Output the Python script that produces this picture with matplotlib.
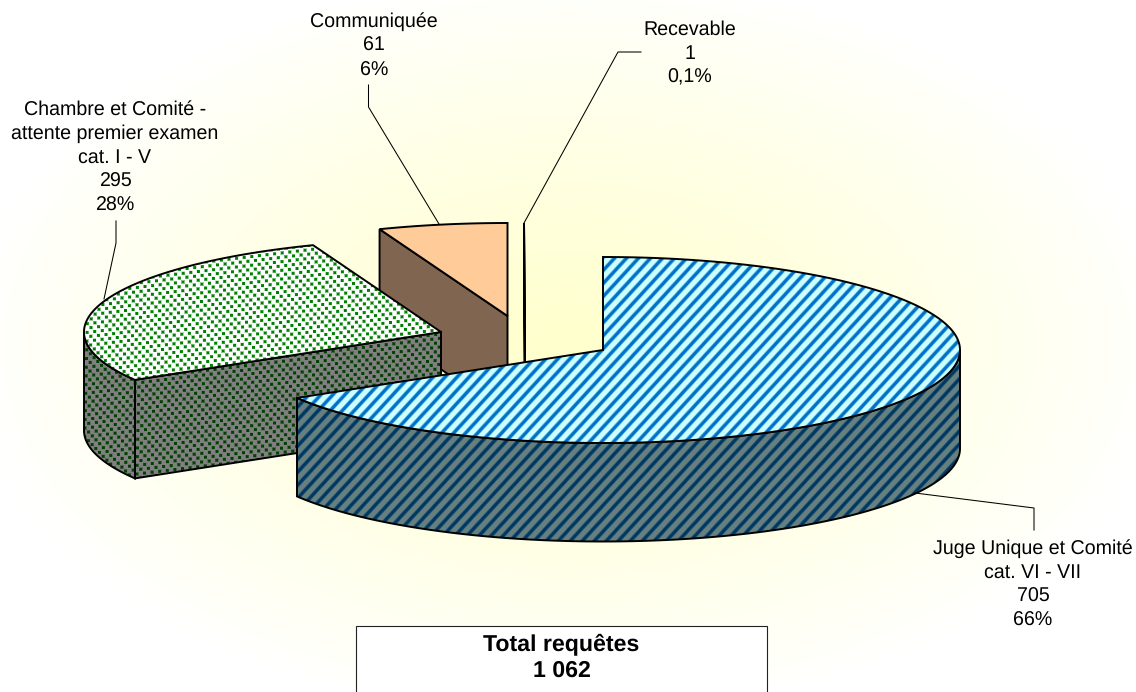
import numpy as np
import matplotlib
matplotlib.use('Agg')
import matplotlib.pyplot as plt
from matplotlib.patches import Polygon, Rectangle

plt.rcParams['font.family'] = ['Liberation Sans', 'DejaVu Sans']
plt.rcParams['text.hinting'] = 'no_hinting'

#%% Donnees -------------------------------------------------------------
labels  = ['Juge Unique et Comité\ncat. VI - VII',
           'Chambre et Comité -\nattente premier examen\ncat. I - V',
           'Communiquée',
           'Recevable']
values  = [705, 295, 61, 1]
pct_txt = ['66%', '28%', '6%', '0,1%']
total_label = 'Total requêtes'

#%% Mise en page (pixels) -----------------------------------------------
W, H = 1136, 692
rx, ry, depth = 357, 93, 98.5
centers = [(603, 350), (441, 332), (507.5, 316), (524.5, 316)]

label_pos = [(1033, 584.5), (115, 157.5), (374, 46), (690, 53.5)]
leaders = [[(1034, 530), (1034, 508), (915, 493)],
           [(116, 221), (116, 243), (104, 299)],
           [(368.5, 85), (368.5, 107), (439, 224)],
           [(641, 52), (618, 52), (524, 223)]]

xx, yy = np.meshgrid(np.arange(W) + 0.5, np.arange(H) + 0.5)


def hex_rgb(c):
    return np.array(matplotlib.colors.to_rgb(c))


def stripes(fg, bg):
    # rayures montantes, periode 12 px
    d = np.abs(((xx + 0.92 * yy) % 12) / 12 - 0.5) * 2
    a = np.clip((d - 0.42) / 0.36, 0, 1)[..., None]
    return hex_rgb(bg) * (1 - a) + hex_rgb(fg) * a


def dots(fg, bg):
    # petits carres en quinconce, reseau legerement incline
    A = np.array([[7.6, 3.7], [-0.9, 3.9]])
    inv = np.linalg.inv(A)
    u = inv[0, 0] * xx + inv[0, 1] * yy
    v = inv[1, 0] * xx + inv[1, 1] * yy
    f, g = u - np.round(u), v - np.round(v)
    dx = A[0, 0] * f + A[0, 1] * g
    dy = A[1, 0] * f + A[1, 1] * g
    a = np.clip(2.0 - np.maximum(np.abs(dx), np.abs(dy)), 0, 1)[..., None]
    return hex_rgb(bg) * (1 - a) + hex_rgb(fg) * a


def solid(c):
    return np.ones((H, W, 3)) * hex_rgb(c)


def rim(c, t0, t1, n=200):
    t = np.radians(np.linspace(t0, t1, n))
    return np.c_[c[0] + rx * np.sin(t), c[1] - ry * np.cos(t)]


def down(pts):
    return pts + np.array([0, depth])


def face(ax, pts, tex):
    poly = Polygon(pts, closed=True, fc='none', ec='none', zorder=3)
    ax.add_patch(poly)
    im = ax.imshow(tex, extent=(0, W, H, 0), origin='upper', aspect='auto',
                   interpolation='nearest', zorder=3)
    im.set_clip_path(poly)
    # contour par-dessus la texture
    ax.add_patch(Polygon(pts, closed=True, fc='none', ec='black', lw=1.4, zorder=3))


fig = plt.figure(figsize=(W / 100, H / 100), dpi=100)
ax = fig.add_axes([0, 0, 1, 1])

#%% Fond en degrade -----------------------------------------------------
r = np.sqrt(((xx - 568) / 600) ** 2 + ((yy - 346) / 370) ** 2)
k = np.clip(1 - r, 0, 1)[..., None] ** 0.9
bgim = np.array([1, 1, 1]) * (1 - k) + hex_rgb('#FFFFCC') * k
ax.imshow(bgim, extent=(0, W, H, 0), origin='upper', aspect='auto', zorder=0)

#%% Secteurs ------------------------------------------------------------
# angles arrondis au degre
ends = np.round(np.cumsum(values) / sum(values) * 360)
starts = np.r_[0, ends[:-1]]

tops = [stripes('#0070C8', '#CCFFFF'), dots('#008000', '#FFFFFF'),
        solid('#FFCC99'), solid('#FFFFCC')]
sides = [stripes('#003864', '#668080'), dots('#004000', '#808080'),
         solid('#806650'), solid('#808066')]

# du fond vers l'avant
for i in [3, 2, 1, 0]:
    c, t0, t1 = centers[i], starts[i], ends[i]
    apex = np.array([c])
    # paroi radiale du debut de secteur
    if i > 0:
        p0 = rim(c, t0, t0, 1)
        wall = np.vstack([p0, apex, down(apex), down(p0)])
        face(ax, wall, sides[i])
    # face exterieure visible (avant de l'ellipse)
    a, b = max(t0, 90), min(t1, 270)
    if a < b:
        arc = rim(c, a, b)
        face(ax, np.vstack([arc, down(arc)[::-1]]), sides[i])
    face(ax, np.vstack([apex, rim(c, t0, t1)]), tops[i])

#%% Etiquettes ----------------------------------------------------------
for i in range(len(values)):
    txt = f'{labels[i]}\n{values[i]}\n{pct_txt[i]}'
    ax.text(label_pos[i][0], label_pos[i][1], txt, ha='center', va='center',
            fontsize=14.1, linespacing=1.38, color='#000000', zorder=5)
    pts = np.array(leaders[i])
    ax.plot(pts[:, 0], pts[:, 1], color='black', lw=0.75, zorder=4)

ax.add_patch(Rectangle((356, 626), 411, 120, fc='white', ec='#222222', lw=0.8, zorder=4))
total_txt = f'{sum(values):,}'.replace(',', ' ')
ax.text(561.5, 657, f'{total_label}\n{total_txt}', ha='center', va='center',
        fontsize=16.7, fontweight='bold', linespacing=1.30, zorder=5)

ax.set_xlim(0, W)
ax.set_ylim(H, 0)
ax.axis('off')
fig.savefig('out.png', dpi=100)
